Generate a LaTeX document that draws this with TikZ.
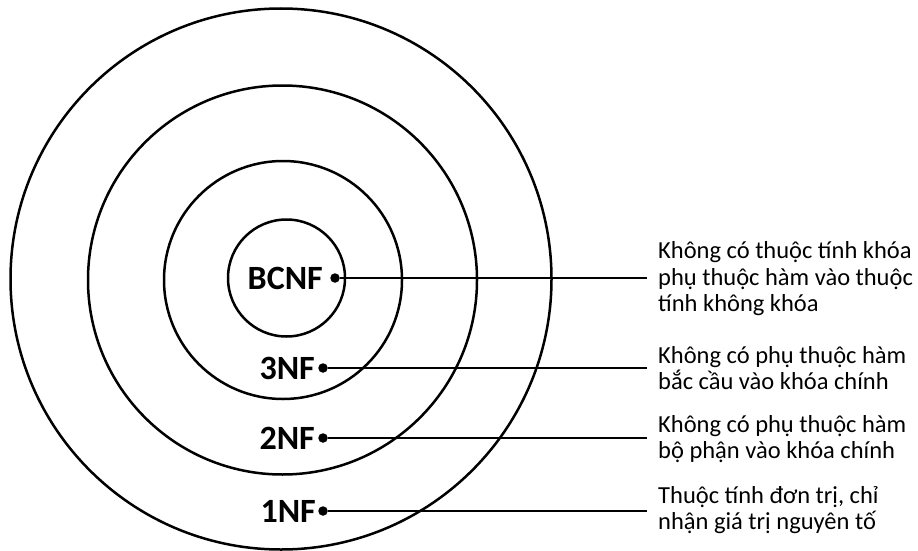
\documentclass[tikz,border=0pt]{standalone}
\usepackage{fontspec}
\setmainfont{Carlito}
\usepackage{tikz}
\tikzstyle{ring}=[circle,draw=black,line width=2.5pt,inner sep=0pt]
\tikzstyle{level}=[anchor=east,inner sep=0pt,font=\bfseries\fontsize{34}{40}\selectfont]
\tikzstyle{dot}=[circle,fill=black,inner sep=0pt,minimum size=9.5pt]
\tikzstyle{note}=[anchor=west,align=left,inner sep=0pt,font=\fontsize{24.5}{26.5}\selectfont]
\tikzstyle{link}=[line width=2pt,shorten >=11pt]

\begin{document}
\begin{tikzpicture}[x=1pt,y=-1pt]
        \useasboundingbox (0,0) rectangle (918,551);

        \node at (281,279)   [ring,minimum size=541pt] (r1) {};
        \node at (282.5,280) [ring,minimum size=389pt] (r2) {};
        \node at (283,280)   [ring,minimum size=238pt] (r3) {};
        \node at (286.5,278) [ring,minimum size=117pt] (r4) {};

        \node at (335,278) [dot] (dB) {};
        \node at (323,368) [dot] (d3) {};
        \node at (323,438) [dot] (d2) {};
        \node at (323,511) [dot] (d1) {};

        \node at (323,278) [level] (lB) {BCNF};
        \node at (315,368) [level] (l3) {3NF};
        \node at (315,438) [level] (l2) {2NF};
        \node at (316,511) [level] (l1) {1NF};

        \node at (658,279) [note] (nB) {Không có thuộc tính khóa\\phụ thuộc hàm vào thuộc\\tính không khóa};
        \node at (658,368) [note] (n3) {Không có phụ thuộc hàm\\bắc cầu vào khóa chính};
        \node at (658,439) [note] (n2) {Không có phụ thuộc hàm\\bộ phận vào khóa chính};
        \node at (658,510) [note] (n1) {Thuộc tính đơn trị, chỉ\\nhận giá trị nguyên tố};

        \draw [link] (dB) -- (nB.west |- dB);
        \draw [link] (d3) -- (n3.west |- d3);
        \draw [link] (d2) -- (n2.west |- d2);
        \draw [link] (d1) -- (n1.west |- d1);
      \end{tikzpicture}
\end{document}
